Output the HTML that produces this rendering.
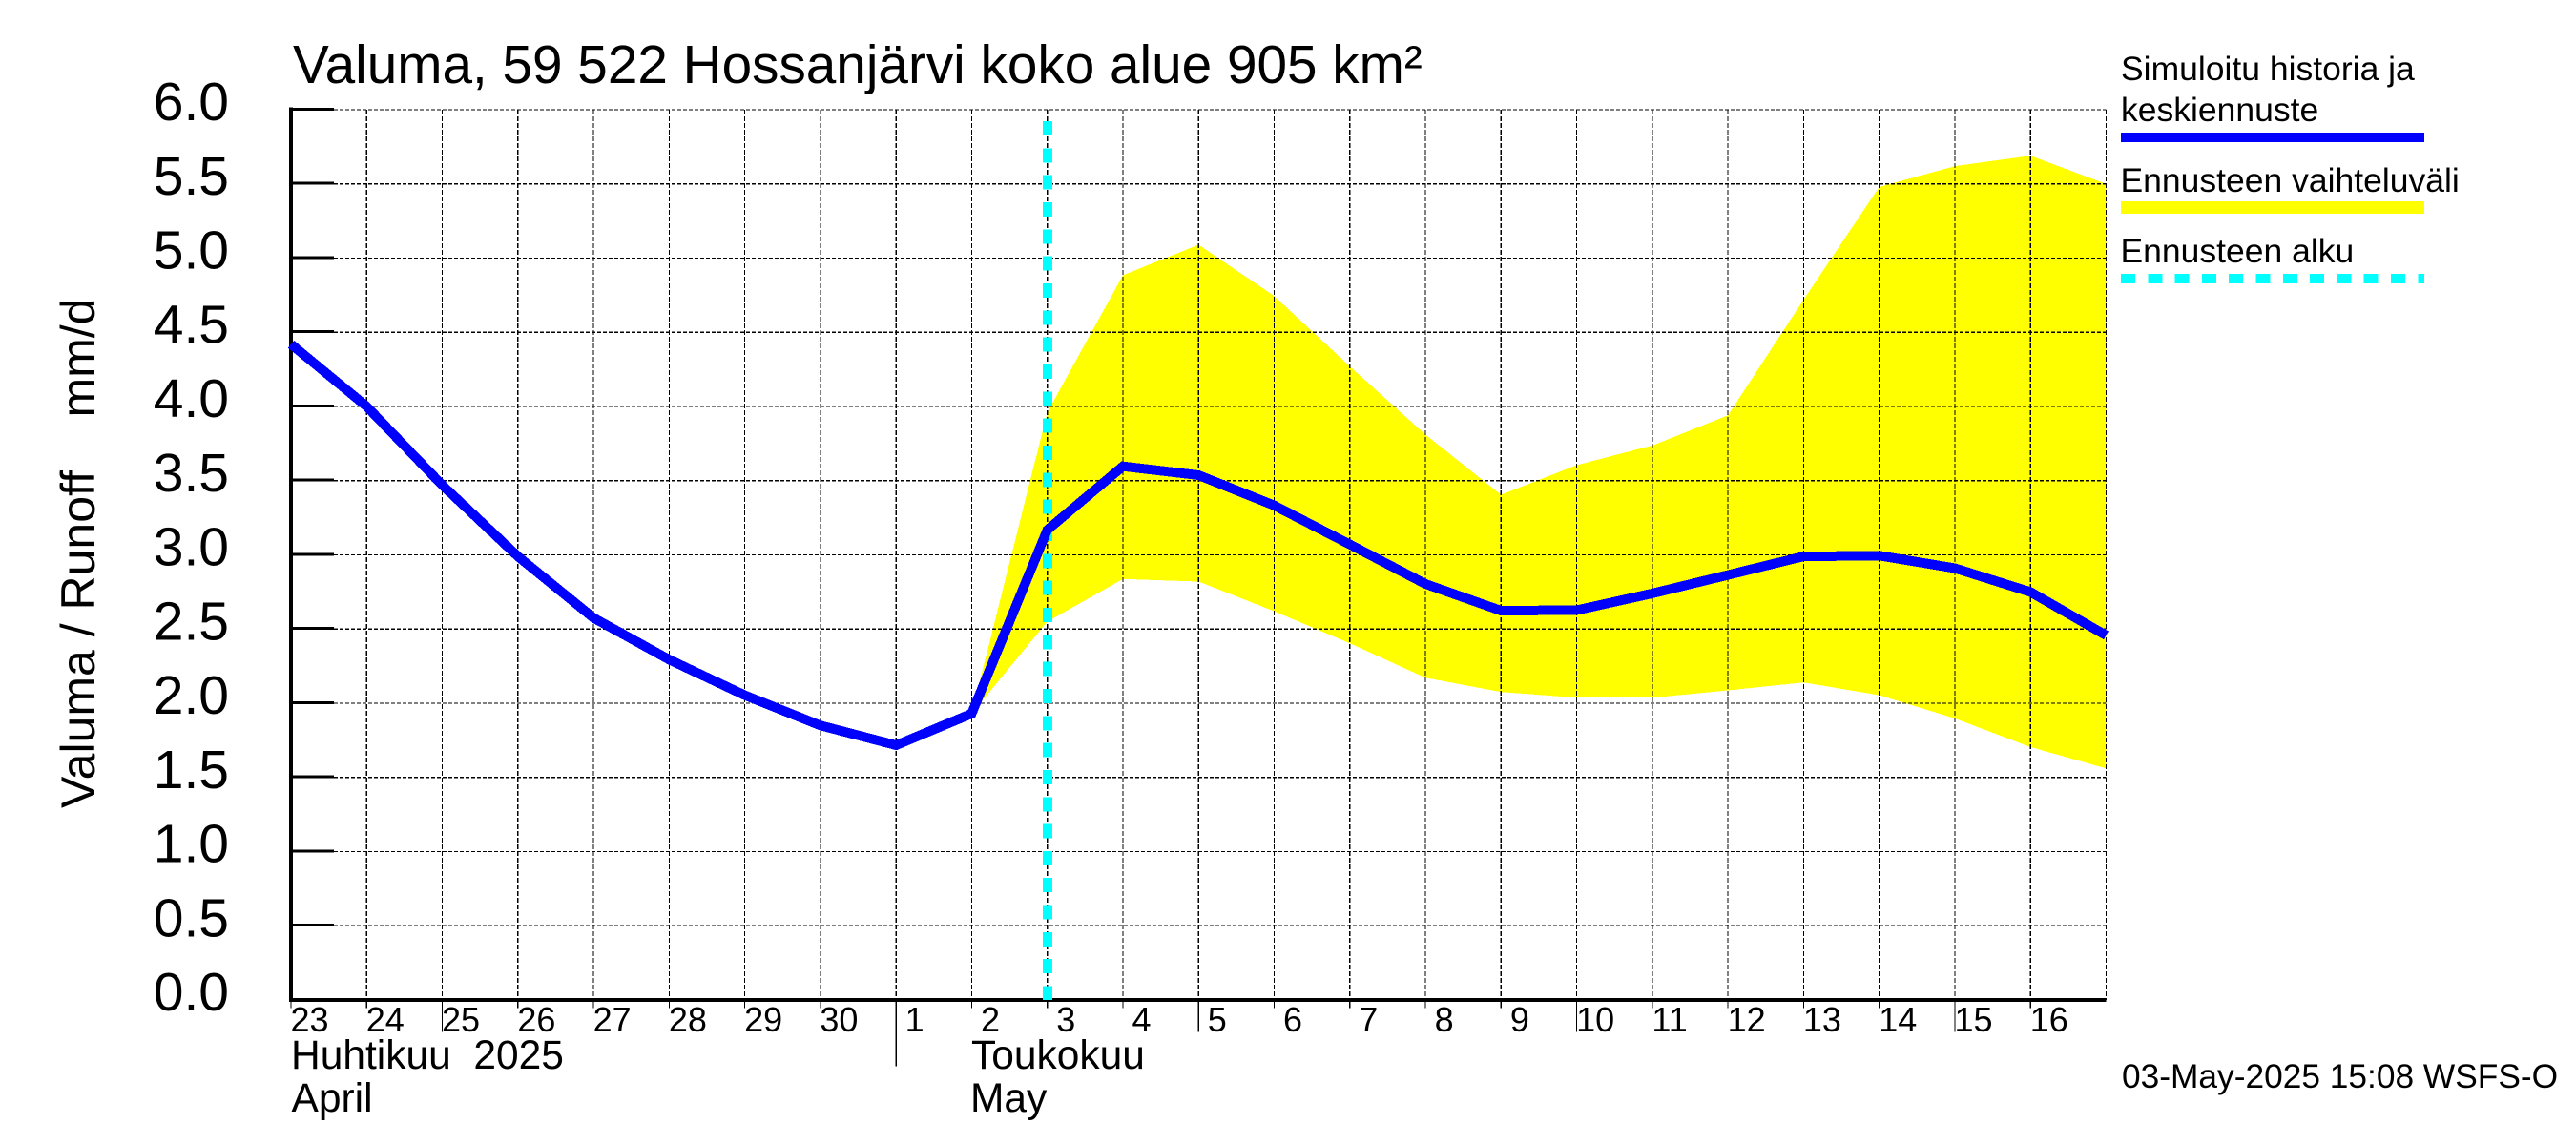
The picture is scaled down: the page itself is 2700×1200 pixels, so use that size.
<!DOCTYPE html>
<html lang="fi">
<head>
<meta charset="utf-8">
<title>Valuma, 59 522 Hossanjärvi koko alue 905 km²</title>
<style>
  html, body { margin: 0; padding: 0; background: #fff; }
  svg { display: block; font-family: "Liberation Sans", Arial, sans-serif; fill: #000; }
  text { white-space: pre; }
</style>
</head>
<body>
<svg id="chart" xmlns="http://www.w3.org/2000/svg" width="2700" height="1200" viewBox="0 0 2700 1200">
  <rect x="0" y="0" width="2700" height="1200" fill="#fff"/>
  <g id="band-layer"></g>
  <g id="grid-layer"></g>
  <g id="axis-layer"></g>
  <g id="marker-layer"></g>
  <g id="line-layer"></g>

  <text x="307" y="87" font-size="56.7">Valuma, 59 522 Hossanjärvi koko alue 905 km²</text>
  <text transform="translate(99 847) rotate(-90)" font-size="50">Valuma / Runoff    mm/d</text>

  <text x="305" y="1120" font-size="42.5">Huhtikuu  2025</text>
  <text x="305.5" y="1165" font-size="42.5">April</text>
  <text x="1018" y="1120" font-size="42.5">Toukokuu</text>
  <text x="1017" y="1165" font-size="42.5">May</text>

  <g>
    <text x="2223" y="84" font-size="35.5">Simuloitu historia ja</text>
    <text x="2223" y="127" font-size="35.5">keskiennuste</text>
    <rect x="2223" y="139" width="318" height="10" fill="#0000ff"/>
    <text x="2222.5" y="201" font-size="35.5">Ennusteen vaihteluväli</text>
    <rect x="2223" y="211" width="318" height="13" fill="#ffff00"/>
    <text x="2222.5" y="275" font-size="35.5">Ennusteen alku</text>
    <line x1="2223" y1="292" x2="2541" y2="292" stroke="#00ffff" stroke-width="10" stroke-dasharray="15 13.3" shape-rendering="crispEdges"/>
  </g>

  <text x="2224" y="1140" font-size="35.3">03-May-2025 15:08 WSFS-O</text>
</svg>

<script>
var dayLabels = ['23','24','25','26','27','28','29','30','1','2','3','4','5','6','7','8','9','10','11','12','13','14','15','16'];
var longTickLabels = ['25','5','10','15'];
var monthStartLabels = ['1'];
var yTickValues = [0, 0.5, 1, 1.5, 2, 2.5, 3, 3.5, 4, 4.5, 5, 5.5, 6];
var yTickLabels = ['0.0','0.5','1.0','1.5','2.0','2.5','3.0','3.5','4.0','4.5','5.0','5.5','6.0'];
var simulatedRunoff = [4.42, 4.00, 3.47, 2.99, 2.575, 2.294, 2.054, 1.85, 1.717, 1.93, 3.168, 3.597, 3.537, 3.333, 3.07, 2.804, 2.624, 2.627, 2.74, 2.864, 2.99, 2.995, 2.91, 2.75, 2.457];
var forecastHigh = [1.93, 3.96, 4.885, 5.09, 4.745, 4.27, 3.81, 3.405, 3.605, 3.737, 3.94, 4.72, 5.48, 5.62, 5.69, 5.50];
var forecastLow = [1.93, 2.55, 2.837, 2.82, 2.62, 2.404, 2.172, 2.076, 2.037, 2.037, 2.087, 2.14, 2.054, 1.898, 1.705, 1.561];
var forecastBandStartDay = 9;
var forecastStartDay = 10;

var NS = 'http://www.w3.org/2000/svg';
var plotLeft = 305, plotRight = 2207.5, plotTop = 115, plotBottom = 1048;
var yMax = 6;

function xScale(dayIndex) {
  return plotLeft + dayIndex * (plotRight - plotLeft) / dayLabels.length;
}
function yScale(value) {
  return plotBottom - value * (plotBottom - plotTop) / yMax;
}
function make(tag, parent, attrs) {
  var el = document.createElementNS(NS, tag);
  Object.keys(attrs).forEach(function (k) { el.setAttribute(k, attrs[k]); });
  parent.appendChild(el);
  return el;
}

var bandLayer = document.getElementById('band-layer');
var gridLayer = document.getElementById('grid-layer');
var axisLayer = document.getElementById('axis-layer');
var markerLayer = document.getElementById('marker-layer');
var lineLayer = document.getElementById('line-layer');

/* forecast range band */
var bandPts = [];
forecastHigh.forEach(function (v, i) {
  bandPts.push(xScale(forecastBandStartDay + i).toFixed(1) + ',' + yScale(v).toFixed(1));
});
for (var li = forecastLow.length - 1; li >= 0; li--) {
  bandPts.push(xScale(forecastBandStartDay + li).toFixed(1) + ',' + yScale(forecastLow[li]).toFixed(1));
}
var band = make('polygon', bandLayer, { points: bandPts.join(' '), fill: '#ffff00', 'shape-rendering': 'crispEdges' });



/* horizontal grid, ticks, labels */
yTickValues.forEach(function (v, i) {
  var y = yScale(v);
  if (v > 0) {
    var g = make('line', gridLayer, { x1: plotLeft + 45, y1: y, x2: plotRight, y2: y, stroke: '#000', 'stroke-width': 1.2, 'stroke-dasharray': '4 2', 'shape-rendering': 'crispEdges' });
    
    
    var t = make('line', axisLayer, { x1: plotLeft, y1: y - 0.7, x2: plotLeft + 45, y2: y - 0.7, stroke: '#000', 'stroke-width': 3, 'shape-rendering': 'crispEdges' });
    
    
  }
  var lbl = make('text', axisLayer, { x: 240, y: y + 11, 'font-size': 57, 'text-anchor': 'end' });
  lbl.textContent = yTickLabels[i];
  
  
});

/* vertical grid, ticks, day labels */
dayLabels.forEach(function (d, i) {
  var x = xScale(i);
  if (i > 0) {
    var g = make('line', gridLayer, { x1: x, y1: plotTop, x2: x, y2: plotBottom, stroke: '#000', 'stroke-width': 1.2, 'stroke-dasharray': '5 2', 'shape-rendering': 'crispEdges' });
    
    
  }
  var tickEnd = 1056.7;
  if (longTickLabels.indexOf(d) >= 0) { tickEnd = 1081.7; }
  if (monthStartLabels.indexOf(d) >= 0) { tickEnd = 1117.7; }
  var t = make('line', axisLayer, { x1: x, y1: plotBottom, x2: x, y2: tickEnd, stroke: '#000', 'stroke-width': 1.2, 'shape-rendering': 'crispEdges' });
  
  
  var lbl = make('text', axisLayer, { x: x + (d.length === 1 ? 9.5 : -0.5), y: 1081, 'font-size': 36 });
  lbl.textContent = d;
  
  
});

/* right border of grid */
var rightEdge = make('line', gridLayer, { x1: plotRight, y1: plotTop, x2: plotRight, y2: plotBottom, stroke: '#000', 'stroke-width': 1.2, 'stroke-dasharray': '5 2', 'shape-rendering': 'crispEdges' });



/* axes */
var yAxis = make('line', axisLayer, { x1: plotLeft, y1: plotTop - 2.5, x2: plotLeft, y2: plotBottom + 2, stroke: '#000', 'stroke-width': 4, 'shape-rendering': 'crispEdges' });


var xAxis = make('line', axisLayer, { x1: plotLeft - 2, y1: plotBottom, x2: plotRight, y2: plotBottom, stroke: '#000', 'stroke-width': 4, 'shape-rendering': 'crispEdges' });



/* forecast start marker */
var markerX = xScale(forecastStartDay) + 0.5;
var marker = make('line', markerLayer, { x1: markerX, y1: 127, x2: markerX, y2: plotBottom, stroke: '#00ffff', 'stroke-width': 10, 'stroke-dasharray': '15 13.33', 'shape-rendering': 'crispEdges' });



/* simulated history + mean forecast */
var linePts = simulatedRunoff.map(function (v, i) {
  return xScale(i).toFixed(1) + ',' + yScale(v).toFixed(1);
});
var simLine = make('polyline', lineLayer, { points: linePts.join(' '), fill: 'none', stroke: '#0000ff', 'stroke-width': 10, 'stroke-linejoin': 'miter', 'stroke-linecap': 'butt', 'shape-rendering': 'crispEdges' });


</script>
</body>
</html>
